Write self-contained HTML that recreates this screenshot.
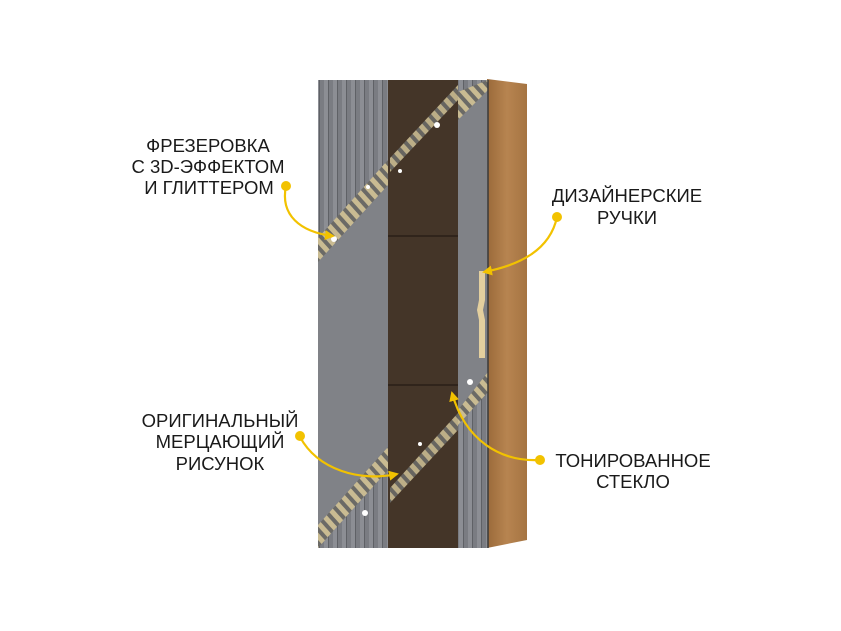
<!DOCTYPE html>
<html><head><meta charset="utf-8"><style>
body{margin:0;background:#fff;width:841px;height:631px;overflow:hidden}
svg{display:block}
text{font-family:"Liberation Sans",sans-serif;font-size:18.5px;fill:#1a1a1a}
</style></head><body>
<svg width="841" height="631" viewBox="0 0 841 631">
<defs>
<pattern id="rib" width="9" height="10" patternUnits="userSpaceOnUse">
<rect width="9" height="10" fill="#7a7c82"/><rect width="4" height="10" fill="#8c8e94"/><rect x="4" width="1" height="10" fill="#5f6166"/>
</pattern>
<pattern id="stripe" width="9" height="9" patternUnits="userSpaceOnUse" patternTransform="rotate(-42)">
<rect width="9" height="9" fill="#6b6a66"/><rect x="1" width="5" height="9" fill="#c9bb92"/>
</pattern>
<linearGradient id="oak" x1="0" x2="1"><stop offset="0" stop-color="#9a6a3a"/><stop offset="0.5" stop-color="#b78450"/><stop offset="1" stop-color="#a57442"/></linearGradient>
<marker id="ar" markerWidth="10" markerHeight="10" refX="8" refY="5" orient="auto" markerUnits="userSpaceOnUse"><path d="M0,0 L10,5 L0,10 Z" fill="#f2c200"/></marker>
</defs>
<polygon points="487,79 527,84 527,540 487,548" fill="url(#oak)"/>
<rect x="318" y="80" width="70" height="468" fill="#808287"/>
<polygon points="318,80 388,80 388,160 318,238" fill="url(#rib)"/>
<polygon points="318,238 388,160 388,185 318,262" fill="url(#stripe)"/>
<polygon points="318,525 388,447 388,548 318,548" fill="url(#rib)"/>
<polygon points="318,525 388,447 388,470 318,548" fill="url(#stripe)"/>
<rect x="388" y="80" width="70" height="468" fill="#4a3a2c"/>
<rect x="388" y="80" width="70" height="468" fill="#3d2f24" opacity="0.5"/>
<line x1="388" y1="236" x2="458" y2="236" stroke="#2a1f17" stroke-width="1.5"/>
<line x1="388" y1="385" x2="458" y2="385" stroke="#2a1f17" stroke-width="1.5"/>
<polygon points="390,158 458,85 458,100 390,172" fill="url(#stripe)" opacity="0.9"/>
<polygon points="390,488 458,413 458,430 390,503" fill="url(#stripe)" opacity="0.9"/>
<rect x="458" y="80" width="30" height="468" fill="#808287"/>
<polygon points="458,80 488,80 488,80 458,112" fill="url(#rib)"/>
<polygon points="458,92 488,80 488,90 458,120" fill="url(#stripe)"/>
<polygon points="458,420 488,388 488,548 458,548" fill="url(#rib)"/>
<polygon points="458,410 488,372 488,392 458,425" fill="url(#stripe)"/>
<line x1="488" y1="80" x2="488" y2="548" stroke="#3a3a3a" stroke-width="1.5"/>
<path d="M479,271 L485,271 L485,300 L483,310 L485,320 L485,358 L479,358 L479,320 L477,310 L479,300 Z" fill="#e3cf9e"/>
<g fill="#fff"><circle cx="334" cy="239" r="3"/><circle cx="368" cy="187" r="2"/><circle cx="437" cy="125" r="3"/><circle cx="400" cy="171" r="2"/><circle cx="470" cy="382" r="3"/><circle cx="365" cy="513" r="3"/><circle cx="420" cy="444" r="2"/></g>
<g fill="none" stroke="#f2c200" stroke-width="2.2">
<path d="M286,186 C280,215 300,232 333,236" marker-end="url(#ar)"/>
<path d="M557,217 C550,250 520,265 484,272" marker-end="url(#ar)"/>
<path d="M300,437 C318,470 360,482 397,474" marker-end="url(#ar)"/>
<path d="M540,460 C500,462 465,440 452,393" marker-end="url(#ar)"/>
</g>
<g fill="#f2c200"><circle cx="286" cy="186" r="5"/><circle cx="557" cy="217" r="5"/><circle cx="300" cy="436" r="5"/><circle cx="540" cy="460" r="5"/></g>
<g text-anchor="middle">
<text x="208" y="152">ФРЕЗЕРОВКА</text>
<text x="208" y="173">С 3D-ЭФФЕКТОМ</text>
<text x="209" y="194">И ГЛИТТЕРОМ</text>
<text x="627" y="202">ДИЗАЙНЕРСКИЕ</text>
<text x="627" y="224">РУЧКИ</text>
<text x="220" y="427">ОРИГИНАЛЬНЫЙ</text>
<text x="220" y="448">МЕРЦАЮЩИЙ</text>
<text x="220" y="470">РИСУНОК</text>
<text x="633" y="467">ТОНИРОВАННОЕ</text>
<text x="633" y="488">СТЕКЛО</text>
</g>
</svg>
</body></html>
